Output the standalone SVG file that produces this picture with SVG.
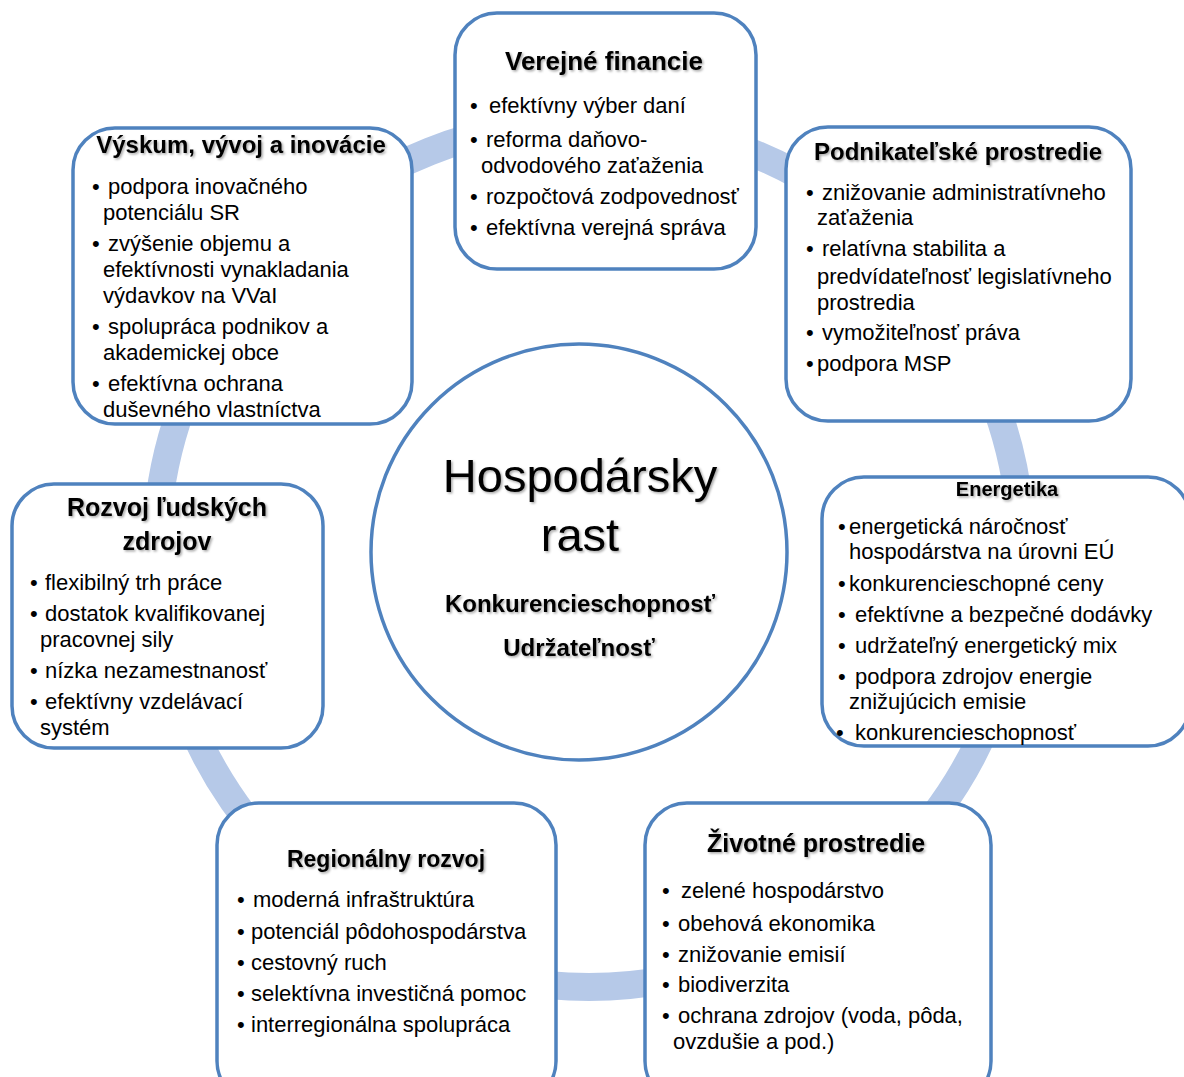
<svg xmlns="http://www.w3.org/2000/svg" width="1184" height="1077" viewBox="0 0 1184 1077">
<defs>
<filter id="sh" x="-10%" y="-30%" width="120%" height="160%">
<feDropShadow dx="1.5" dy="1.5" stdDeviation="1.2" flood-color="#000" flood-opacity="0.35"/>
</filter>
<style>
.box{fill:#fff;stroke:#4f82be;stroke-width:3.5}
.ring{fill:none;stroke:#b6c9e8;stroke-width:28}
text{font-family:"Liberation Sans",Arial,sans-serif;fill:#000}
.t{font-weight:bold;font-size:25px;text-anchor:middle;filter:url(#sh)}
.b{font-size:22px}
.c{text-anchor:middle;filter:url(#sh)}
</style>
</defs>
<rect width="1184" height="1077" fill="#fff"/>
<g id="connectors">
<circle class="ring" cx="589" cy="554" r="433"/>
</g>
<g id="verejne-financie">
<rect class="box" x="455" y="13" width="301" height="256" rx="42"/>
<text class="t" x="604" y="70" style="font-size:26px">Verejné financie</text>
<text class="b"><tspan x="470" y="113">•</tspan><tspan x="489" y="113">efektívny výber daní</tspan>
<tspan x="470" y="147">•</tspan><tspan x="486" y="147">reforma daňovo-</tspan>
<tspan x="481" y="173">odvodového zaťaženia</tspan>
<tspan x="470" y="204">•</tspan><tspan x="486" y="204">rozpočtová zodpovednosť</tspan>
<tspan x="470" y="235">•</tspan><tspan x="486" y="235">efektívna verejná správa</tspan></text>
</g>
<g id="vyskum">
<rect class="box" x="73" y="128" width="339" height="296" rx="42"/>
<text class="t" x="241" y="153" style="font-size:24px">Výskum, vývoj a inovácie</text>
<text class="b"><tspan x="92" y="194">•</tspan><tspan x="108" y="194">podpora inovačného</tspan>
<tspan x="103" y="220">potenciálu SR</tspan>
<tspan x="92" y="251">•</tspan><tspan x="108" y="251">zvýšenie objemu a</tspan>
<tspan x="103" y="277">efektívnosti vynakladania</tspan>
<tspan x="103" y="303">výdavkov na VVaI</tspan>
<tspan x="92" y="334">•</tspan><tspan x="108" y="334">spolupráca podnikov a</tspan>
<tspan x="103" y="360">akademickej obce</tspan>
<tspan x="92" y="391">•</tspan><tspan x="108" y="391">efektívna ochrana</tspan>
<tspan x="103" y="417">duševného vlastníctva</tspan></text>
</g>
<g id="podnikatelske">
<rect class="box" x="786" y="127" width="345" height="294" rx="42"/>
<text class="t" x="958" y="160" style="font-size:24px">Podnikateľské prostredie</text>
<text class="b"><tspan x="806" y="200">•</tspan><tspan x="822" y="200">znižovanie administratívneho</tspan>
<tspan x="817" y="225">zaťaženia</tspan>
<tspan x="806" y="256">•</tspan><tspan x="822" y="256">relatívna stabilita a</tspan>
<tspan x="817" y="284">predvídateľnosť legislatívneho</tspan>
<tspan x="817" y="310">prostredia</tspan>
<tspan x="806" y="340">•</tspan><tspan x="822" y="340">vymožiteľnosť práva</tspan>
<tspan x="806" y="371">•</tspan><tspan x="817" y="371">podpora MSP</tspan></text>
</g>
<g id="energetika">
<rect class="box" x="822" y="477" width="368" height="269" rx="42"/>
<text class="t" x="1007" y="496" style="font-size:20px">Energetika</text>
<text class="b"><tspan x="838" y="534">•</tspan><tspan x="849" y="534">energetická náročnosť</tspan>
<tspan x="849" y="559">hospodárstva na úrovni EÚ</tspan>
<tspan x="838" y="591">•</tspan><tspan x="849" y="591">konkurencieschopné ceny</tspan>
<tspan x="838" y="622">•</tspan><tspan x="855" y="622">efektívne a bezpečné dodávky</tspan>
<tspan x="838" y="653">•</tspan><tspan x="855" y="653">udržateľný energetický mix</tspan>
<tspan x="838" y="684">•</tspan><tspan x="855" y="684">podpora zdrojov energie</tspan>
<tspan x="849" y="709">znižujúcich emisie</tspan>
<tspan x="836" y="740">•</tspan><tspan x="855" y="740">konkurencieschopnosť</tspan></text>
</g>
<g id="rozvoj">
<rect class="box" x="12" y="484" width="311" height="264" rx="42"/>
<text class="t" x="167" y="516">Rozvoj ľudských</text>
<text class="t" x="167" y="550">zdrojov</text>
<text class="b"><tspan x="30" y="590">•</tspan><tspan x="45" y="590">flexibilný trh práce</tspan>
<tspan x="30" y="621">•</tspan><tspan x="45" y="621">dostatok kvalifikovanej</tspan>
<tspan x="40" y="647">pracovnej sily</tspan>
<tspan x="30" y="678">•</tspan><tspan x="45" y="678">nízka nezamestnanosť</tspan>
<tspan x="30" y="709">•</tspan><tspan x="45" y="709">efektívny vzdelávací</tspan>
<tspan x="40" y="735">systém</tspan></text>
</g>
<g id="regionalny">
<rect class="box" x="217" y="803" width="339" height="300" rx="42"/>
<text class="t" x="386" y="867" style="font-size:23px">Regionálny rozvoj</text>
<text class="b"><tspan x="237" y="907">•</tspan><tspan x="253" y="907">moderná infraštruktúra</tspan>
<tspan x="237" y="939">•</tspan><tspan x="251" y="939">potenciál pôdohospodárstva</tspan>
<tspan x="237" y="970">•</tspan><tspan x="251" y="970">cestovný ruch</tspan>
<tspan x="237" y="1001">•</tspan><tspan x="251" y="1001">selektívna investičná pomoc</tspan>
<tspan x="237" y="1032">•</tspan><tspan x="251" y="1032">interregionálna spolupráca</tspan></text>
</g>
<g id="zivotne">
<rect class="box" x="645" y="803" width="346" height="300" rx="42"/>
<text class="t" x="816" y="852">Životné prostredie</text>
<text class="b"><tspan x="662" y="898">•</tspan><tspan x="681" y="898">zelené hospodárstvo</tspan>
<tspan x="662" y="931">•</tspan><tspan x="678" y="931">obehová ekonomika</tspan>
<tspan x="662" y="962">•</tspan><tspan x="678" y="962">znižovanie emisií</tspan>
<tspan x="662" y="992">•</tspan><tspan x="678" y="992">biodiverzita</tspan>
<tspan x="662" y="1023">•</tspan><tspan x="678" y="1023">ochrana zdrojov (voda, pôda,</tspan>
<tspan x="673" y="1049">ovzdušie a pod.)</tspan></text>
</g>
<g id="hospodarsky-rast">
<circle class="box" cx="579" cy="552" r="208"/>
<text class="c" x="580" y="492" style="font-size:47px">Hospodársky</text>
<text class="c" x="580" y="551" style="font-size:47px">rast</text>
<text class="c" x="580" y="612" style="font-size:24px;font-weight:bold">Konkurencieschopnosť</text>
<text class="c" x="579" y="656" style="font-size:24px;font-weight:bold">Udržateľnosť</text>
</g>
</svg>
